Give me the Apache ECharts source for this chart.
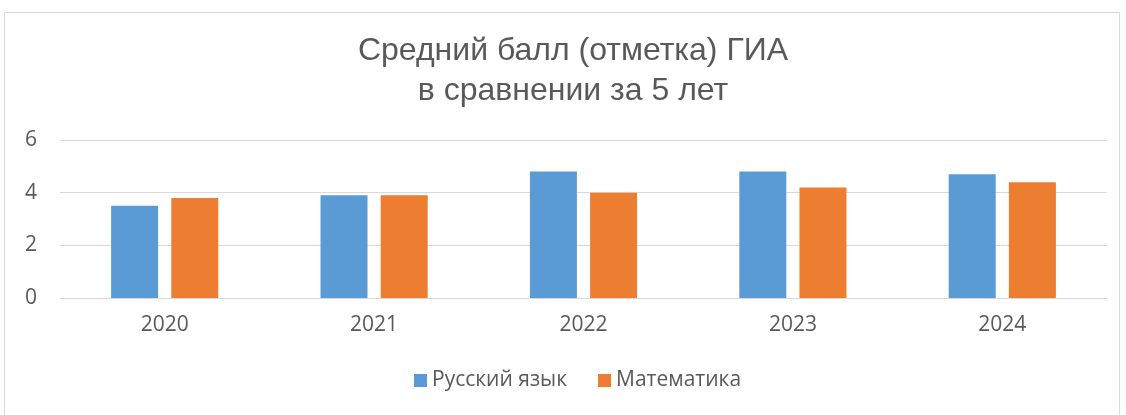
<!DOCTYPE html>
<html>
<head>
<meta charset="utf-8">
<script src="https://cdn.jsdelivr.net/npm/echarts@6/dist/echarts.min.js"></script>
<style>
  html, body { margin: 0; padding: 0; background: #fff; }
  #chart { width: 1126px; height: 415px; }
</style>
</head>
<body>
<div id="chart"></div>
<script>
const years = ['2020', '2021', '2022', '2023', '2024']
const russian = [3.5, 3.9, 4.8, 4.8, 4.7]
const maths = [3.8, 3.9, 4.0, 4.2, 4.4]
const seriesNames = ['Русский язык', 'Математика']

const myChart = echarts.init(document.getElementById('chart'))

const option = {
  backgroundColor: '#fff',
  animation: false,
  textStyle: { fontFamily: 'Open Sans' },
  title: {
    text: 'Средний балл (отметка) ГИА\nв сравнении за 5 лет',
    left: 568,
    top: 26,
    textAlign: 'center',
    textStyle: {
      fontFamily: 'Liberation Sans',
      fontWeight: 'normal',
      fontSize: 32,
      lineHeight: 40,
      color: '#595959'
    }
  },
  graphic: [{
    type: 'rect',
    shape: { x: 4.5, y: 12.5, width: 1115, height: 420 },
    style: { fill: 'none', stroke: '#d9d9d9', lineWidth: 1 },
    silent: true
  }],
  legend: {
    bottom: 19,
    left: 409,
    itemWidth: 13,
    itemHeight: 13,
    itemGap: 31,
    icon: 'rect',
    textStyle: { fontSize: 21, color: '#595959' },
    data: seriesNames
  },
  grid: {
    left: 60,
    right: 19,
    top: 140,
    bottom: 117,
    containLabel: false
  },
  xAxis: {
    type: 'category',
    data: years,
    axisLine: { lineStyle: { color: '#d9d9d9', width: 1 } },
    axisTick: { show: false },
    axisLabel: { fontSize: 21, color: '#595959', margin: 17 }
  },
  yAxis: {
    type: 'value',
    min: 0,
    max: 6,
    interval: 2,
    axisLine: { show: false },
    axisTick: { show: false },
    axisLabel: { fontSize: 21, color: '#595959', margin: 23 },
    splitLine: { lineStyle: { color: '#d9d9d9', width: 1 } }
  },
  series: [
    {
      name: seriesNames[0],
      type: 'bar',
      barWidth: 47,
      barGap: '28%',
      itemStyle: { color: '#5b9bd5' },
      data: russian
    },
    {
      name: seriesNames[1],
      type: 'bar',
      barWidth: 47,
      barGap: '28%',
      itemStyle: { color: '#ed7d31' },
      data: maths
    }
  ]
}

myChart.setOption(option)
</script>
</body>
</html>
